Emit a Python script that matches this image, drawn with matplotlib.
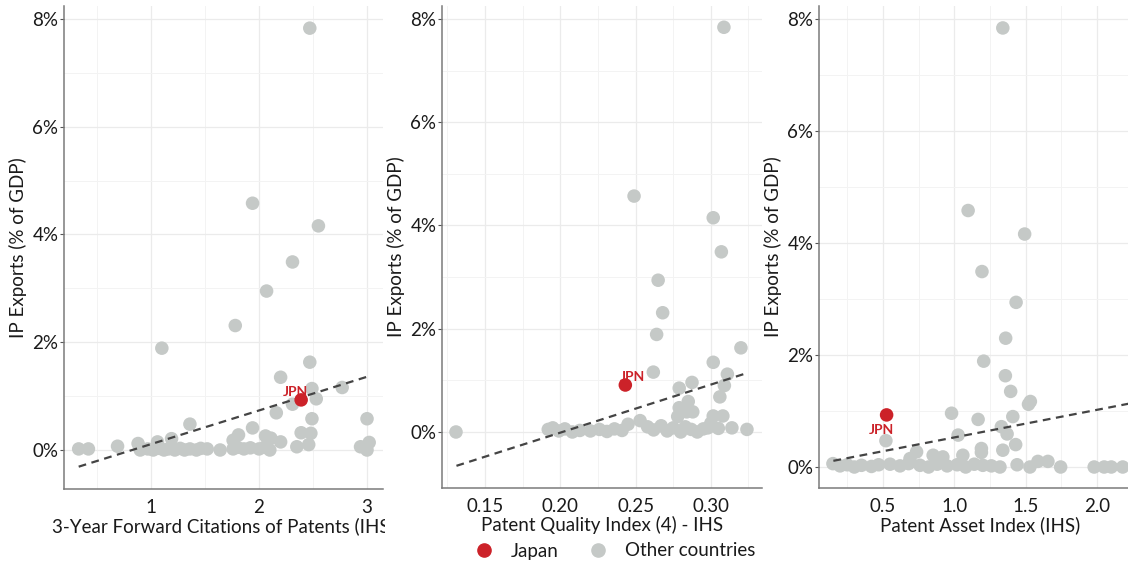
import numpy as np
import matplotlib
matplotlib.use('Agg')
import matplotlib.pyplot as plt
from matplotlib.lines import Line2D
from matplotlib.transforms import Bbox, TransformedBbox

plt.rcParams['font.family'] = ['Lato', 'DejaVu Sans']

# ---- data (IP exports, % of GDP) ----
# panel 1: 3-year forward citations of patents (IHS)
cit_x = [2.47, 1.94, 2.55, 2.31, 2.07, 1.78, 1.10, 2.47, 2.20, 2.49, 2.77, 2.53, 2.31, 2.16,
         1.36, 2.49, 3.00, 1.94, 2.39, 2.48, 1.81, 1.76, 2.06, 2.11, 2.20, 2.35, 2.46, 3.02,
         2.94, 3.00, 1.19, 1.06, 0.88, 0.69, 0.33, 0.42,
         0.90, 0.97, 1.02, 1.08, 1.12, 1.16, 1.22, 1.27, 1.31, 1.36, 1.42, 1.46, 1.52, 1.64,
         1.76, 1.80, 1.86, 1.92, 2.00, 2.05, 2.10]
cit_y = [7.83, 4.58, 4.16, 3.49, 2.95, 2.31, 1.89, 1.63, 1.35, 1.14, 1.16, 0.95, 0.85, 0.69,
         0.48, 0.58, 0.58, 0.41, 0.32, 0.31, 0.28, 0.18, 0.26, 0.22, 0.15, 0.06, 0.10, 0.14,
         0.06, 0.00, 0.21, 0.15, 0.12, 0.07, 0.02, 0.02,
         0.00, 0.02, 0.00, 0.03, 0.00, 0.02, 0.00, 0.03, 0.00, 0.02, 0.00, 0.03, 0.02, 0.00,
         0.02, 0.05, 0.02, 0.04, 0.02, 0.05, 0.00]
cit_jpn = (2.39, 0.93)
cit_fit = (0.625, -0.516, 0.33, 3.02)   # slope, intercept, x from, x to

# panel 2: patent quality index (4) - IHS
qual_x = [0.3087, 0.249, 0.3016, 0.307, 0.265, 0.268, 0.264, 0.320, 0.3016, 0.2618, 0.311,
          0.309, 0.2875, 0.279, 0.306, 0.285, 0.279, 0.288, 0.284, 0.278, 0.3016, 0.308,
          0.300, 0.253, 0.245, 0.298, 0.324, 0.314, 0.305, 0.1307,
          0.192, 0.195, 0.199, 0.203, 0.208, 0.213, 0.220, 0.226, 0.231, 0.236, 0.241,
          0.258, 0.262, 0.267, 0.271, 0.275, 0.280, 0.283, 0.287, 0.291, 0.295]
qual_y = [7.84, 4.57, 4.15, 3.49, 2.94, 2.31, 1.89, 1.63, 1.35, 1.16, 1.12,
          0.90, 0.96, 0.85, 0.68, 0.59, 0.47, 0.39, 0.39, 0.30, 0.31, 0.31,
          0.17, 0.22, 0.15, 0.08, 0.05, 0.08, 0.07, 0.00,
          0.05, 0.08, 0.02, 0.06, 0.00, 0.03, 0.02, 0.05, 0.01, 0.06, 0.03,
          0.10, 0.04, 0.12, 0.02, 0.08, 0.00, 0.10, 0.05, 0.00, 0.06]
qual_jpn = (0.2432, 0.91)
qual_fit = (9.31, -1.875, 0.131, 0.324)

# panel 3: patent asset index (IHS)
asset_x = [1.34, 1.097, 1.493, 1.194, 1.433, 1.36, 1.206, 1.358, 1.395, 1.533, 1.52, 0.981,
           1.167, 1.41, 1.33, 1.37, 1.027, 0.521, 1.43, 1.34, 1.19, 1.19, 1.06, 0.736,
           0.852, 0.92, 0.69, 1.586, 1.656,
           0.15, 0.20, 0.25, 0.30, 0.35, 0.42, 0.47, 0.55, 0.62, 0.68, 0.76, 0.82, 0.88,
           0.95, 1.02, 1.08, 1.14, 1.20, 1.26, 1.32, 1.44, 1.53, 1.745, 1.98, 2.05, 2.10, 2.18]
asset_y = [7.84, 4.58, 4.16, 3.49, 2.94, 2.30, 1.89, 1.63, 1.35, 1.17, 1.12, 0.96,
           0.85, 0.90, 0.72, 0.59, 0.57, 0.47, 0.40, 0.30, 0.33, 0.26, 0.21, 0.27,
           0.21, 0.18, 0.15, 0.10, 0.10,
           0.06, 0.02, 0.04, 0.00, 0.03, 0.01, 0.04, 0.05, 0.02, 0.06, 0.03, 0.00, 0.05,
           0.02, 0.04, 0.00, 0.05, 0.03, 0.02, 0.00, 0.04, 0.00, 0.00, 0.00, 0.00, 0.00, 0.00]
asset_jpn = (0.526, 0.93)
asset_fit = (0.493, 0.035, 0.153, 2.31)

panels = [
    dict(x=cit_x, y=cit_y, jpn=cit_jpn, fit=cit_fit,
         xlabel='3-Year Forward Citations of Patents (IHS)',
         box=(64, 383, 6, 489), xlim=(0.194, 3.148), ylim=(-0.724, 8.241),
         major=[1, 2, 3], minor=[0.5, 1.5, 2.5], fmt='{:g}', lab_off=(-4, 6)),
    dict(x=qual_x, y=qual_y, jpn=qual_jpn, fit=qual_fit,
         xlabel='Patent Quality Index (4) - IHS',
         box=(442, 762, 6, 488), xlim=(0.1214, 0.334), ylim=(-1.085, 8.252),
         major=[0.15, 0.20, 0.25, 0.30], minor=[0.125, 0.175, 0.225, 0.275, 0.325],
         fmt='{:.2f}', lab_off=(5, 6)),
    dict(x=asset_x, y=asset_y, jpn=asset_jpn, fit=asset_fit,
         xlabel='Patent Asset Index (IHS)',
         box=(819, 1141, 6, 488), xlim=(0.0524, 2.308), ylim=(-0.375, 8.232),
         major=[0.5, 1.0, 1.5, 2.0], minor=[0.25, 0.75, 1.25, 1.75, 2.25],
         fmt='{:.1f}', lab_off=(-4, -11)),
]

W, H = 1128, 563
grey = '#c5c9c7'
red = '#cc2229'
fig = plt.figure(figsize=(W / 100, H / 100), dpi=100)

for p in panels:
    l, r, t, b = p['box']
    ax = fig.add_axes([l / W, 1 - b / H, (r - l) / W, (b - t) / H])
    ax.set_xlim(*p['xlim'])
    ax.set_ylim(*p['ylim'])
    ax.set_xticks(p['major'])
    ax.set_xticklabels([p['fmt'].format(v) for v in p['major']])
    ax.set_xticks(p['minor'], minor=True)
    ax.set_yticks([0, 2, 4, 6, 8])
    ax.set_yticklabels(['0%', '2%', '4%', '6%', '8%'])
    ax.set_yticks([1, 3, 5, 7], minor=True)
    ax.grid(True, which='major', color='#ebebeb', lw=0.9, zorder=0)
    ax.grid(True, which='minor', color='#f3f3f3', lw=0.7, zorder=0)
    ax.set_axisbelow(True)
    for s in ['top', 'right']:
        ax.spines[s].set_visible(False)
    for s in ['left', 'bottom']:
        ax.spines[s].set_color('#7a7a7a')
        ax.spines[s].set_linewidth(1.1)
    ax.tick_params(axis='y', which='major', length=3, width=0.8, color='#555555',
                   labelsize=13.5, labelcolor='#1a1a1a', pad=1)
    ax.tick_params(axis='x', which='major', length=0, labelsize=13.5,
                   labelcolor='#1a1a1a', pad=7)
    ax.tick_params(which='minor', length=0)

    ax.scatter(p['x'], p['y'], s=95, color=grey, edgecolors='none', zorder=3, clip_on=False)
    slope, icpt, x0, x1 = p['fit']
    fx = np.array([x0, x1])
    ax.plot(fx, slope * fx + icpt, ls=(0, (3.5, 2.5)), color='#444444', lw=1.6, zorder=4)
    jx, jy = p['jpn']
    ax.scatter([jx], [jy], s=95, color=red, edgecolors='none', zorder=5)
    ax.annotate('JPN', (jx, jy), xytext=p['lab_off'], textcoords='offset points',
                ha='center', va='center', color=red, fontsize=10, fontweight='bold', zorder=6)

    ax.set_xlabel(p['xlabel'], fontsize=13.5, color='#1a1a1a', labelpad=1)
    ax.set_ylabel('IP Exports (% of GDP)', fontsize=13.5, color='#1a1a1a', labelpad=4)

    # each panel image is cropped on its right side
    clip = TransformedBbox(Bbox([[(l - 70) / W, 0], [min(r + 2, W) / W, 1]]), fig.transFigure)
    ax.xaxis.label.set_clip_box(clip)
    ax.xaxis.label.set_clip_on(True)

handles = [Line2D([], [], marker='o', ls='none', color=red, markersize=9.5, label='Japan'),
           Line2D([], [], marker='o', ls='none', color=grey, markersize=9.5, label='Other countries')]
fig.legend(handles=handles, loc='center', bbox_to_anchor=(614 / W, 12 / H), ncol=2,
           frameon=False, fontsize=13.5, handlelength=1.2, handletextpad=0.85,
           columnspacing=1.5, labelcolor='#1a1a1a')

fig.savefig('out.png', dpi=100, facecolor='white')
